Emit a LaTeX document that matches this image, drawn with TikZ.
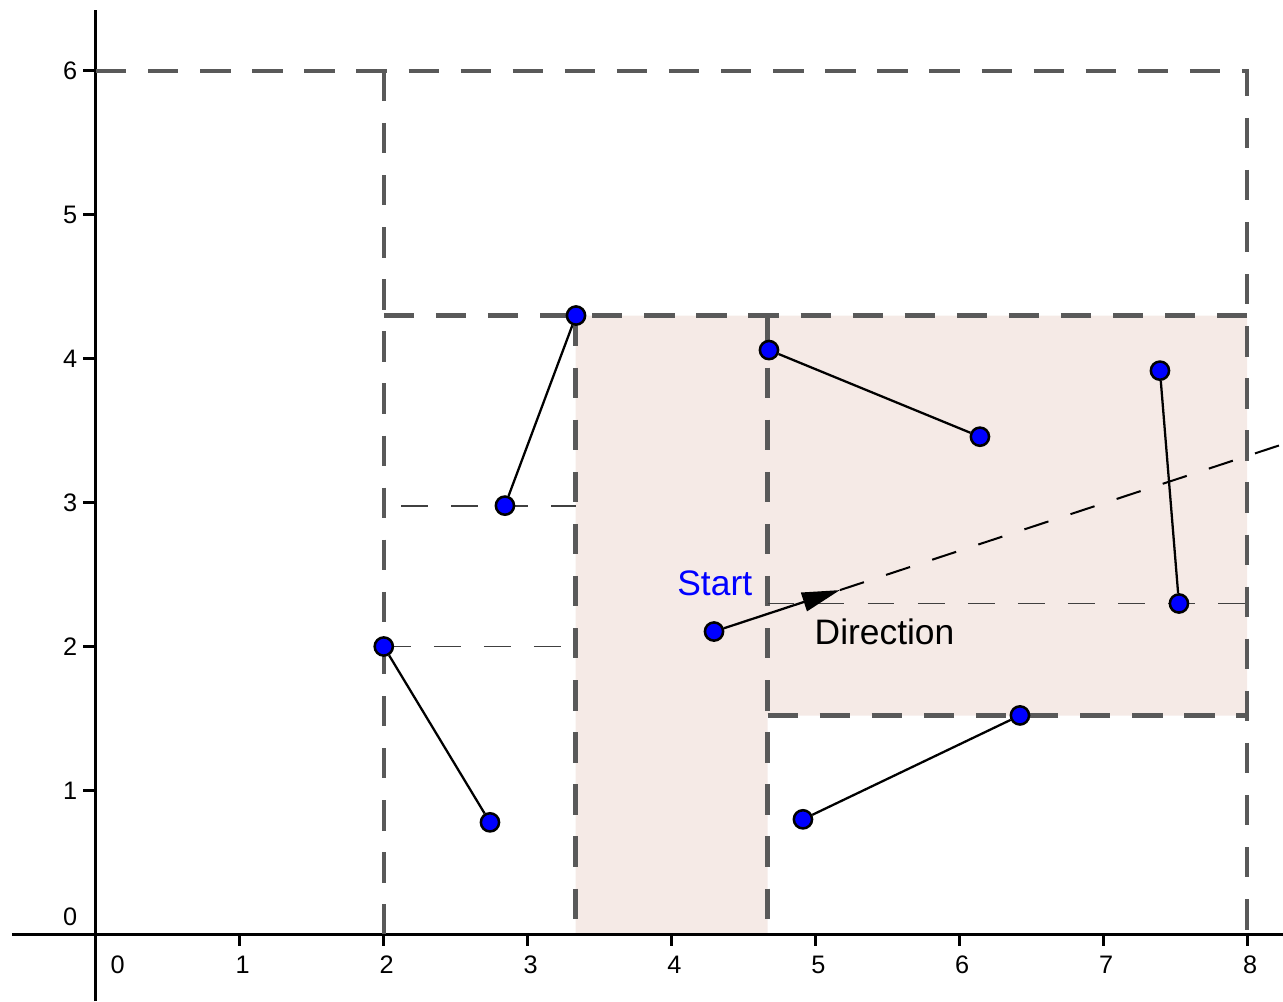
\documentclass[tikz,border=0pt]{standalone}
\usepackage{fontspec}
\setmainfont{Liberation Sans}
\usetikzlibrary{arrows.meta}
\definecolor{regionfill}{RGB}{245,234,230}
\definecolor{pointblue}{RGB}{0,0,255}

\begin{document}
\begin{tikzpicture}[x=1cm,y=1cm,
    wall/.style={black!65, line width=0.9pt, dash pattern=on 6pt off 4.3pt},
    guide/.style={black!75, line width=0.35pt, dash pattern=on 5.3pt off 4.6pt},
    ray/.style={black, line width=0.4pt, dash pattern=on 5pt off 4.6pt},
    seg/.style={black, line width=0.45pt},
    pt/.style={circle, fill=pointblue, draw=black, line width=0.5pt, inner sep=0pt, minimum size=3.6pt},
    ticklbl/.style={font=\fontsize{5}{6}\selectfont},
    lbl/.style={font=\fontsize{7}{8}\selectfont}]
    \useasboundingbox (-0.667,-0.465) rectangle (8.249,6.493);
    \fill[regionfill] (3.333,0) -- (4.667,0) -- (4.667,1.52) -- (8,1.52) -- (8,4.3) -- (3.333,4.3) -- cycle;
    \draw[black, line width=0.6pt] (-0.584,0) -- (8.249,0);
    \draw[black, line width=0.6pt] (0,-0.465) -- (0,6.424);
    \draw[black, line width=0.6pt] (1,0) -- (1,-0.08);
    \draw[black, line width=0.6pt] (2,0) -- (2,-0.08);
    \draw[black, line width=0.6pt] (3,0) -- (3,-0.08);
    \draw[black, line width=0.6pt] (4,0) -- (4,-0.08);
    \draw[black, line width=0.6pt] (5,0) -- (5,-0.08);
    \draw[black, line width=0.6pt] (6,0) -- (6,-0.08);
    \draw[black, line width=0.6pt] (7,0) -- (7,-0.08);
    \draw[black, line width=0.6pt] (8,0) -- (8,-0.08);
    \draw[black, line width=0.6pt] (0,1) -- (-0.09,1);
    \draw[black, line width=0.6pt] (0,2) -- (-0.09,2);
    \draw[black, line width=0.6pt] (0,3) -- (-0.09,3);
    \draw[black, line width=0.6pt] (0,4) -- (-0.09,4);
    \draw[black, line width=0.6pt] (0,5) -- (-0.09,5);
    \draw[black, line width=0.6pt] (0,6) -- (-0.09,6);
    \node[ticklbl] (x0) at (0.15,-0.21) {0};
    \node[ticklbl] (x1) at (1.02,-0.21) {1};
    \node[ticklbl] (x2) at (2.02,-0.21) {2};
    \node[ticklbl] (x3) at (3.02,-0.21) {3};
    \node[ticklbl] (x4) at (4.02,-0.21) {4};
    \node[ticklbl] (x5) at (5.02,-0.21) {5};
    \node[ticklbl] (x6) at (6.02,-0.21) {6};
    \node[ticklbl] (x7) at (7.02,-0.21) {7};
    \node[ticklbl] (x8) at (8.02,-0.21) {8};
    \node[ticklbl] (y0) at (-0.18,0.125) {0};
    \node[ticklbl] (y1) at (-0.18,1) {1};
    \node[ticklbl] (y2) at (-0.18,2) {2};
    \node[ticklbl] (y3) at (-0.18,3) {3};
    \node[ticklbl] (y4) at (-0.18,4) {4};
    \node[ticklbl] (y5) at (-0.18,5) {5};
    \node[ticklbl] (y6) at (-0.18,6) {6};
    \draw[wall] (0,6) -- (8,6) -- (8,0);
    \draw[wall] (2,6) -- (2,0);
    \draw[wall] (2,4.3) -- (8,4.3);
    \draw[wall] (3.333,4.3) -- (3.333,0);
    \draw[wall] (4.667,4.3) -- (4.667,0);
    \draw[wall] (4.667,1.52) -- (8,1.52);
    \draw[guide] (2.12,2.979) -- (3.333,2.979);
    \draw[guide] (2,2) -- (3.333,2);
    \draw[guide] (4.667,2.299) -- (8,2.299);
    \coordinate (tip) at (5.17,2.392);
    \coordinate (rayend) at (8.249,3.406);
    \draw[ray] (tip) -- (rayend);
    \node[pt] (a1) at (2,2) {};
    \node[pt] (a2) at (2.738,0.778) {};
    \node[pt] (b1) at (2.842,2.979) {};
    \node[pt] (b2) at (3.336,4.3) {};
    \node[pt] (c1) at (4.677,4.06) {};
    \node[pt] (c2) at (6.143,3.458) {};
    \node[pt] (d1) at (7.394,3.917) {};
    \node[pt] (d2) at (7.526,2.299) {};
    \node[pt] (e1) at (4.913,0.799) {};
    \node[pt] (e2) at (6.421,1.521) {};
    \node[pt] (start) at (4.295,2.104) {};
    \draw[seg] (a1) -- (a2);
    \draw[seg] (b1) -- (b2);
    \draw[seg] (c1) -- (c2);
    \draw[seg] (d1) -- (d2);
    \draw[seg] (e1) -- (e2);
    \draw[seg, -{Triangle[length=7.5pt,width=3.8pt]}] (start) -- (tip);
    \node[lbl, text=pointblue] (startlbl) at (4.30,2.44) {Start};
    \node[lbl] (dirlbl) at (5.48,2.10) {Direction};
  \end{tikzpicture}
\end{document}
